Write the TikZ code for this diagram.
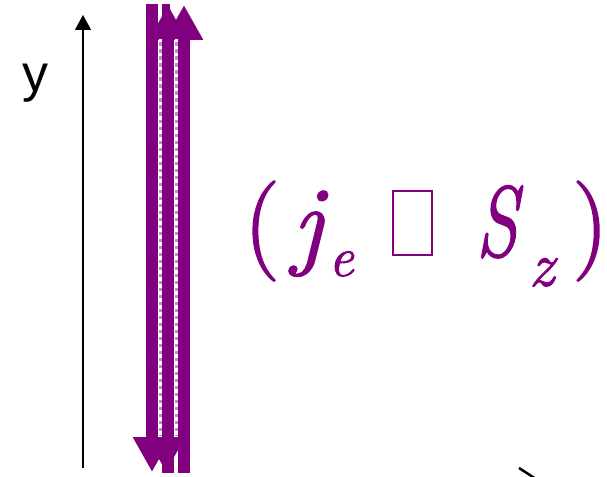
\documentclass[tikz,border=0pt]{standalone}
\usepackage{fontspec}
\usepackage{graphicx}
\newfontfamily\formfont{Latin Modern Roman}[FakeBold=1.6]
\newfontfamily\axisfont{Liberation Sans}
\usetikzlibrary{arrows.meta}
\definecolor{SpinPurple}{RGB}{128,0,128}
\tikzset{
	spin/.style={draw=SpinPurple,line width=12pt,-{Triangle[width=36pt,length=35pt]}},
	gapfill/.style={draw=SpinPurple!45,line width=3pt},
	gapline/.style={draw=white,line width=3pt,dash pattern=on 3.5pt off 3.5pt},
	axis/.style={draw=black,line width=1.3pt,-{Triangle[width=16pt,length=15pt]}},
}
% empty glyph box as printed in the formula
\newcommand{\glyphbox}{\hbox{\vrule width 1.8pt\vbox{\hrule height 1.8pt width 37.4pt\vskip 62.6pt\hrule height 1.8pt}\vrule width 1.8pt}}
\begin{document}
\begin{tikzpicture}[x=1pt,y=-1pt]
	\useasboundingbox (0,0) rectangle (607,476);
	% y axis
	\coordinate (ybot) at (83,468);
	\coordinate (ytop) at (83,15);
	\draw[axis] (ybot) -- (ytop);
	\node[font=\axisfont\fontsize{52}{52}\selectfont,anchor=base] (ylab) at (35,92) {y};
	% counter-propagating spin currents
	\coordinate (d1s) at (152,4);   \coordinate (d1e) at (152,472);
	\coordinate (d2s) at (166,4);   \coordinate (d2e) at (166,472);
	\coordinate (u1s) at (168,473); \coordinate (u1e) at (168,5);
	\coordinate (u2s) at (184,473); \coordinate (u2e) at (184,5);
	\draw[spin] (d1s) -- (d1e);
	\draw[spin,line width=8pt] (d2s) -- (d2e);
	\draw[spin] (u1s) -- (u1e);
	\draw[spin] (u2s) -- (u2e);
	\coordinate (g1s) at (160,39);  \coordinate (g1e) at (160,436);
	\coordinate (g2s) at (176,39);  \coordinate (g2e) at (176,436);
	\draw[gapfill] (g1s) -- (g1e);
	\draw[gapfill] (g2s) -- (g2e);
	\draw[gapline] (g1s) -- (g1e);
	\draw[gapline] (g2s) -- (g2e);
	% formula
	\node[anchor=base west,inner sep=0pt,text=SpinPurple,font=\formfont\fontsize{100}{100}\selectfont] (jxs) at (244,256)
		{(\kern13pt\textit{j}\kern1pt\raisebox{-20pt}{\fontsize{56}{56}\selectfont\textit{e}}\kern38pt\glyphbox\kern43pt\scalebox{0.75}[1]{\textit{S}}\kern6pt\raisebox{-30pt}{\fontsize{63}{63}\selectfont\textit{z}}\kern15pt)};
	% clipped stroke at the lower right
	\coordinate (zs) at (519,468);
	\coordinate (ze) at (536,479);
	\draw[line width=2.5pt] (zs) -- (ze);
\end{tikzpicture}
\end{document}
